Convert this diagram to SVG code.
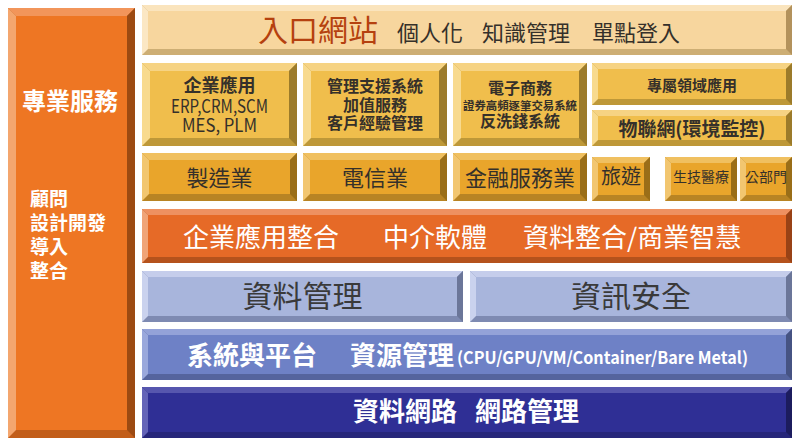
<svg xmlns="http://www.w3.org/2000/svg" width="800" height="448" viewBox="0 0 800 448">
<style>
text{font-family:"Noto Sans CJK TC","Noto Sans",sans-serif}
.org .b{fill:#C25E1A}.org .t{fill:#F2955A}.org .l{fill:#F4A66E}.org .r{fill:#9C4A12}.org .f{fill:#EE7623}
.por .b{fill:#CDAE74}.por .t{fill:#FAE4BD}.por .l{fill:#FBE7C4}.por .r{fill:#B3925C}.por .f{fill:#F7D69E}
.yel .b{fill:#BE9838}.yel .t{fill:#F6D383}.yel .l{fill:#F8DA8E}.yel .r{fill:#9C7B2A}.yel .f{fill:#F0BE4C}
.ye2 .b{fill:#B88424}.ye2 .t{fill:#F0C060}.ye2 .l{fill:#F2C670}.ye2 .r{fill:#9A6E18}.ye2 .f{fill:#E9A52B}
.ori .b{fill:#B5521C}.ori .t{fill:#EE9161}.ori .l{fill:#F0A478}.ori .r{fill:#994216}.ori .f{fill:#E66A27}
.lb .b{fill:#7E8AB2}.lb .t{fill:#C5CDEB}.lb .l{fill:#CAD2EE}.lb .r{fill:#6B7699}.lb .f{fill:#A8B5DC}
.mb .b{fill:#55649E}.mb .t{fill:#94A2D8}.mb .l{fill:#9AA8DC}.mb .r{fill:#465383}.mb .f{fill:#6E81C6}
.db .b{fill:#26267A}.db .t{fill:#5656AE}.db .l{fill:#6464B8}.db .r{fill:#1C1C5E}.db .f{fill:#2F2F95}
.dk{fill:#35302A}
.wh{fill:#FFFFFF}
.c{text-anchor:middle}
.bd{font-weight:bold}
.nb{font-weight:normal}
</style>

<g id="professional-services" class="org">
<rect class="b" x="8" y="8" width="127" height="430"/>
<polygon class="t" points="8,8 135,8 127,16 16,16"/>
<polygon class="l" points="8,8 16,16 16,430 8,438"/>
<polygon class="r" points="135,8 135,438 127,430 127,16"/>
<rect class="f" x="16" y="16" width="111" height="414"/>
<text class="wh bd c" x="70" y="110" font-size="24">專業服務</text>
<text class="wh bd" font-size="19"><tspan x="30" y="206">顧問</tspan><tspan x="30" y="230">設計開發</tspan><tspan x="30" y="254">導入</tspan><tspan x="30" y="278">整合</tspan></text>
</g>

<g id="portal" class="por">
<rect class="b" x="142" y="5" width="650" height="50"/>
<polygon class="t" points="142,5 792,5 786,11 148,11"/>
<polygon class="l" points="142,5 148,11 148,49 142,55"/>
<polygon class="r" points="792,5 792,55 786,49 786,11"/>
<rect class="f" x="148" y="11" width="638" height="38"/>
<text x="258" y="41" font-size="30" fill="#B5410F">入口網站</text>
<text class="dk" y="41" font-size="22"><tspan x="397">個人化</tspan><tspan x="482">知識管理</tspan><tspan x="592">單點登入</tspan></text>
</g>

<g id="enterprise-apps" class="yel">
<rect class="b" x="142" y="63" width="155" height="83"/>
<polygon class="t" points="142,63 297,63 289,71 150,71"/>
<polygon class="l" points="142,63 150,71 150,138 142,146"/>
<polygon class="r" points="297,63 297,146 289,138 289,71"/>
<rect class="f" x="150" y="71" width="139" height="67"/>
<text class="dk c" font-size="18"><tspan class="bd" x="219.5" y="92">企業應用</tspan><tspan x="219.5" y="113" textLength="97" lengthAdjust="spacingAndGlyphs">ERP,CRM,SCM</tspan><tspan x="219.5" y="132" textLength="75" lengthAdjust="spacingAndGlyphs">MES, PLM</tspan></text>
</g>

<g id="management-support" class="yel">
<rect class="b" x="303" y="63" width="144" height="83"/>
<polygon class="t" points="303,63 447,63 439,71 311,71"/>
<polygon class="l" points="303,63 311,71 311,138 303,146"/>
<polygon class="r" points="447,63 447,146 439,138 439,71"/>
<rect class="f" x="311" y="71" width="128" height="67"/>
<text class="dk c bd" font-size="16"><tspan x="375" y="92">管理支援系統</tspan><tspan x="375" y="111">加值服務</tspan><tspan x="375" y="129">客戶經驗管理</tspan></text>
</g>

<g id="ecommerce" class="yel">
<rect class="b" x="453" y="63" width="134" height="83"/>
<polygon class="t" points="453,63 587,63 579,71 461,71"/>
<polygon class="l" points="453,63 461,71 461,138 453,146"/>
<polygon class="r" points="587,63 587,146 579,138 579,71"/>
<rect class="f" x="461" y="71" width="118" height="67"/>
<text class="dk c bd" font-size="16"><tspan x="520" y="94">電子商務</tspan><tspan x="520" y="110" font-size="11.5" textLength="114" lengthAdjust="spacingAndGlyphs">證券高頻逐筆交易系統</tspan><tspan x="520" y="127">反洗錢系統</tspan></text>
</g>

<g id="domain-apps" class="yel">
<rect class="b" x="592" y="63" width="200" height="42"/>
<polygon class="t" points="592,63 792,63 786,69 598,69"/>
<polygon class="l" points="592,63 598,69 598,99 592,105"/>
<polygon class="r" points="792,63 792,105 786,99 786,69"/>
<rect class="f" x="598" y="69" width="188" height="30"/>
<text class="dk c bd" x="692" y="91" font-size="15">專屬領域應用</text>
</g>

<g id="iot" class="yel">
<rect class="b" x="592" y="110" width="200" height="36"/>
<polygon class="t" points="592,110 792,110 786,116 598,116"/>
<polygon class="l" points="592,110 598,116 598,140 592,146"/>
<polygon class="r" points="792,110 792,146 786,140 786,116"/>
<rect class="f" x="598" y="116" width="188" height="24"/>
<text class="dk c bd" x="692" y="136" font-size="19" textLength="147" lengthAdjust="spacingAndGlyphs">物聯網(環境監控)</text>
</g>

<g id="manufacturing" class="ye2">
<rect class="b" x="142" y="153" width="155" height="48"/>
<polygon class="t" points="142,153 297,153 290,160 149,160"/>
<polygon class="l" points="142,153 149,160 149,194 142,201"/>
<polygon class="r" points="297,153 297,201 290,194 290,160"/>
<rect class="f" x="149" y="160" width="141" height="34"/>
<text class="dk c" x="219.5" y="186" font-size="22">製造業</text>
</g>

<g id="telecom" class="ye2">
<rect class="b" x="303" y="153" width="144" height="48"/>
<polygon class="t" points="303,153 447,153 440,160 310,160"/>
<polygon class="l" points="303,153 310,160 310,194 303,201"/>
<polygon class="r" points="447,153 447,201 440,194 440,160"/>
<rect class="f" x="310" y="160" width="130" height="34"/>
<text class="dk c" x="375" y="186" font-size="22">電信業</text>
</g>

<g id="finance" class="ye2">
<rect class="b" x="453" y="153" width="134" height="48"/>
<polygon class="t" points="453,153 587,153 580,160 460,160"/>
<polygon class="l" points="453,153 460,160 460,194 453,201"/>
<polygon class="r" points="587,153 587,201 580,194 580,160"/>
<rect class="f" x="460" y="160" width="120" height="34"/>
<text class="dk c" x="520" y="186" font-size="22">金融服務業</text>
</g>

<g id="travel" class="ye2">
<rect class="b" x="592" y="157" width="58" height="44"/>
<polygon class="t" points="592,157 650,157 644,163 598,163"/>
<polygon class="l" points="592,157 598,163 598,195 592,201"/>
<polygon class="r" points="650,157 650,201 644,195 644,163"/>
<rect class="f" x="598" y="163" width="46" height="32"/>
<text class="dk c" x="621" y="184" font-size="20">旅遊</text>
</g>

<g id="biotech" class="ye2">
<rect class="b" x="665" y="157" width="72" height="44"/>
<polygon class="t" points="665,157 737,157 731,163 671,163"/>
<polygon class="l" points="665,157 671,163 671,195 665,201"/>
<polygon class="r" points="737,157 737,201 731,195 731,163"/>
<rect class="f" x="671" y="163" width="60" height="32"/>
<text class="dk c" x="701" y="182" font-size="14">生技醫療</text>
</g>

<g id="public-sector" class="ye2">
<rect class="b" x="740" y="157" width="52" height="44"/>
<polygon class="t" points="740,157 792,157 786,163 746,163"/>
<polygon class="l" points="740,157 746,163 746,195 740,201"/>
<polygon class="r" points="792,157 792,201 786,195 786,163"/>
<rect class="f" x="746" y="163" width="40" height="32"/>
<text class="dk c" x="766" y="182" font-size="14">公部門</text>
</g>

<g id="integration" class="ori">
<rect class="b" x="142" y="209" width="650" height="54"/>
<polygon class="t" points="142,209 792,209 786,215 148,215"/>
<polygon class="l" points="142,209 148,215 148,257 142,263"/>
<polygon class="r" points="792,209 792,263 786,257 786,215"/>
<rect class="f" x="148" y="215" width="638" height="42"/>
<text class="wh" y="247" font-size="26"><tspan x="183">企業應用整合</tspan><tspan x="383">中介軟體</tspan><tspan x="523">資料整合/商業智慧</tspan></text>
</g>

<g id="data-management" class="lb">
<rect class="b" x="142" y="271" width="321" height="51"/>
<polygon class="t" points="142,271 463,271 457,277 148,277"/>
<polygon class="l" points="142,271 148,277 148,316 142,322"/>
<polygon class="r" points="463,271 463,322 457,316 457,277"/>
<rect class="f" x="148" y="277" width="309" height="39"/>
<text class="c" x="302.5" y="307" font-size="30" fill="#3A3A3A">資料管理</text>
</g>

<g id="info-security" class="lb">
<rect class="b" x="470" y="271" width="322" height="51"/>
<polygon class="t" points="470,271 792,271 786,277 476,277"/>
<polygon class="l" points="470,271 476,277 476,316 470,322"/>
<polygon class="r" points="792,271 792,322 786,316 786,277"/>
<rect class="f" x="476" y="277" width="310" height="39"/>
<text class="c" x="631" y="307" font-size="30" fill="#3A3A3A">資訊安全</text>
</g>

<g id="systems-platform" class="mb">
<rect class="b" x="142" y="329" width="650" height="51"/>
<polygon class="t" points="142,329 792,329 786,335 148,335"/>
<polygon class="l" points="142,329 148,335 148,374 142,380"/>
<polygon class="r" points="792,329 792,380 786,374 786,335"/>
<rect class="f" x="148" y="335" width="638" height="39"/>
<text class="wh bd" y="365" font-size="26"><tspan x="187">系統與平台</tspan><tspan x="350">資源管理</tspan><tspan x="457" y="364" font-size="17" textLength="291" lengthAdjust="spacingAndGlyphs">(CPU/GPU/VM/Container/Bare Metal)</tspan></text>
</g>

<g id="data-network" class="db">
<rect class="b" x="142" y="387" width="650" height="51"/>
<polygon class="t" points="142,387 792,387 786,393 148,393"/>
<polygon class="l" points="142,387 148,393 148,432 142,438"/>
<polygon class="r" points="792,387 792,438 786,432 786,393"/>
<rect class="f" x="148" y="393" width="638" height="39"/>
<text class="wh bd" y="421" font-size="26"><tspan x="353">資料網路</tspan><tspan x="475">網路管理</tspan></text>
</g>

<g id="connectors"/>
</svg>
